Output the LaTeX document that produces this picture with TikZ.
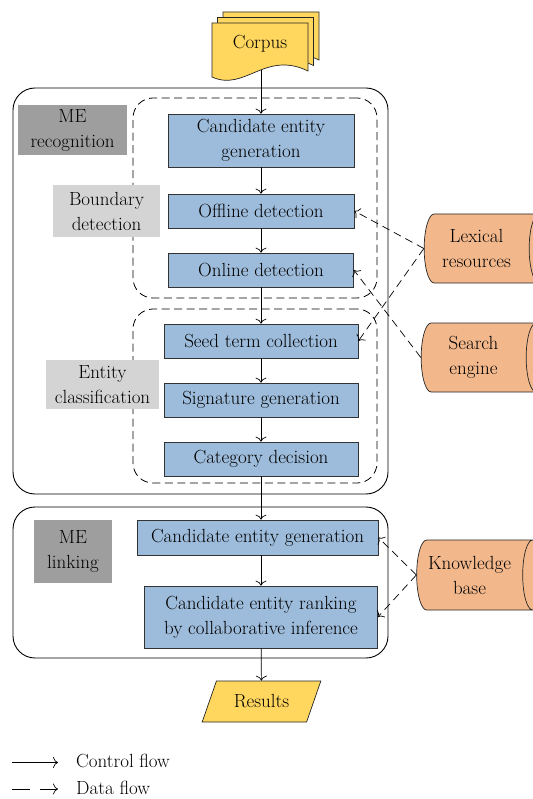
\documentclass[tikz,border=0pt]{standalone}
\usepackage{fontspec}
\usepackage{xcolor}
\usepackage{tikz}
\usetikzlibrary{shapes.geometric, arrows, arrows.meta}

\definecolor{procblue}{HTML}{9DBBDA}
\definecolor{storeorange}{HTML}{F2B88C}
\definecolor{corpusyellow}{HTML}{FFD65E}
\definecolor{tagdark}{HTML}{9E9E9E}
\definecolor{taglight}{HTML}{D4D4D4}

\begin{document}
\begin{tikzpicture}[x=1pt, y=-1pt]
		\tikzset{
			every node/.style={font=\fontsize{19}{25}\selectfont},
			procbox/.style={rectangle, draw=black!80, fill=procblue, align=center, inner sep=1pt, line width=0.7pt},
			tagbox/.style={rectangle, align=center, inner sep=1pt},
			groupbox/.style={rectangle, draw, rounded corners=22pt, line width=0.9pt},
			stagebox/.style={rectangle, draw, dash pattern=on 8pt off 4.5pt, rounded corners=20pt, line width=0.8pt},
			storebox/.style={cylinder, draw=black!85, fill=storeorange, shape aspect=0.4, align=center,
			minimum width=69pt, minimum height=125pt, inner sep=0pt, line width=0.7pt,
			label={[align=center, xshift=-5pt]center:#1}},
			sheetbox/.style={draw=black!85, fill=corpusyellow, line width=0.7pt},
			ctrlflow/.style={-{To[length=5pt, width=11pt]}, line width=0.7pt},
			dataflow/.style={-{To[length=5pt, width=11pt]}, line width=0.7pt, dash pattern=on 8pt off 5pt}
		}
		\useasboundingbox (0,0) rectangle (532,799);

		% containers
		\node[groupbox, minimum width=375pt, minimum height=406pt](recog) at (200.5,291){};
		\node[groupbox, minimum width=375pt, minimum height=151pt](linking) at (200.5,582.5){};
		\node[stagebox, minimum width=244pt, minimum height=200pt](boundary) at (255,198){};
		\node[stagebox, minimum width=244pt, minimum height=174pt](classif) at (255,396){};

		% corpus
		\foreach \d in {11,5.5,0}
			\filldraw[sheetbox, shift={(\d,-\d)}] (212,23) -- (308,23) -- (308,71)
				.. controls (265,50) and (245,92) .. (212,77) -- cycle;
		\node(corpus) at (260,44){Corpus};
		\coordinate (corpus-out) at (261,70);

		% labels
		\node[tagbox, fill=tagdark, minimum width=109pt, minimum height=50pt](merec) at (72.5,130){ME\\recognition};
		\node[tagbox, fill=taglight, minimum width=107pt, minimum height=52pt](bdlab) at (106.5,211){Boundary\\detection};
		\node[tagbox, fill=taglight, minimum width=113pt, minimum height=49pt](eclab) at (102.5,384.5){Entity\\classification};
		\node[tagbox, fill=tagdark, minimum width=78pt, minimum height=63pt](melink) at (73,551.5){ME\\linking};

		% steps
		\node[procbox, minimum width=186pt, minimum height=53pt](ceg) at (261,140.5){Candidate entity\\generation};
		\node[procbox, minimum width=186pt, minimum height=34pt](offline) at (261,211){Offline detection};
		\node[procbox, minimum width=185pt, minimum height=34pt](online) at (261,270){Online detection};
		\node[procbox, minimum width=194pt, minimum height=34pt](seed) at (261,341){Seed term collection};
		\node[procbox, minimum width=194pt, minimum height=34pt](sig) at (261,400){Signature generation};
		\node[procbox, minimum width=194pt, minimum height=34pt](cat) at (261,459){Category decision};
		\node[procbox, minimum width=241pt, minimum height=35pt](ceglink) at (257.5,537.5){Candidate entity generation};
		\node[procbox, minimum width=233pt, minimum height=62pt](rank) at (261,617){Candidate entity ranking\\by collaborative inference};
		\node[trapezium, trapezium left angle=64, trapezium right angle=116, trapezium stretches=true,
			draw=black!85, fill=corpusyellow, line width=0.7pt, minimum width=119pt, minimum height=41pt](results) at (261.5,701.5){Results};

		% resources
		\node[storebox={Lexical\\resources}](lexical) at (481.5,248.5){\strut\\\strut};
		\node[storebox={Search\\engine}](search) at (478.5,357.5){\strut\\\strut};
		\node[storebox={Knowledge\\base}, minimum width=70pt, minimum height=126pt](kb) at (474.5,575){\strut\\\strut};

		% control flow
		\draw[ctrlflow](corpus-out) -- (ceg);
		\draw[ctrlflow](ceg) -- (offline);
		\draw[ctrlflow](offline) -- (online);
		\draw[ctrlflow](online) -- (seed);
		\draw[ctrlflow](seed) -- (sig);
		\draw[ctrlflow](sig) -- (cat);
		\draw[ctrlflow](cat.south) -- (cat.south |- ceglink.north);
		\draw[ctrlflow](rank.north |- ceglink.south) -- (rank.north);
		\draw[ctrlflow](rank) -- (results);

		% data flow
		\draw[dataflow](lexical.west) -- (offline.east);
		\draw[dataflow](lexical.west) -- (seed.east);
		\draw[dataflow](search.west) -- (online.east);
		\draw[dataflow](kb.west) -- (ceglink.east);
		\draw[dataflow](kb.west) -- (rank.east);

		% legend
		\coordinate (ctrl-a) at (12,762.5);
		\coordinate (ctrl-b) at (58,762.5);
		\coordinate (data-a) at (12,789);
		\coordinate (data-b) at (58,789);
		\draw[ctrlflow](ctrl-a) -- (ctrl-b);
		\draw[-{To[length=5pt, width=11pt]}, line width=0.7pt, dash pattern=on 18pt off 10pt](data-a) -- (data-b);
		\node[anchor=base west, inner sep=0pt](ctrl-text) at (76,767){Control flow};
		\node[anchor=base west, inner sep=0pt](data-text) at (76,794){Data flow};
	\end{tikzpicture}
\end{document}
